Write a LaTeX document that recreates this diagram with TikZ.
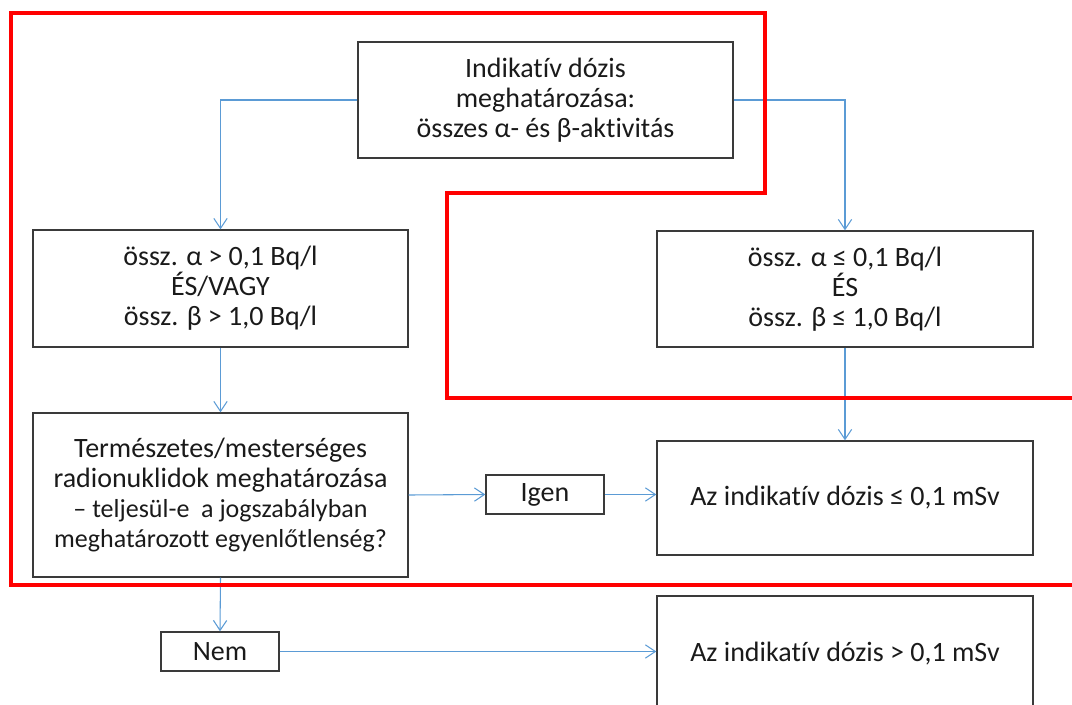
\documentclass[tikz,border=0pt]{standalone}
\usepackage{fontspec}
\setmainfont{Carlito}[Ligatures=NoCommon]
\usetikzlibrary{arrows.meta}
\definecolor{flowblue}{HTML}{5B9BD5}
\definecolor{boxline}{HTML}{3A3A3A}
\definecolor{ink}{HTML}{1A1A1A}
\definecolor{zone}{HTML}{FF0000}
\tikzset{
  stepbox/.style={draw=boxline, line width=1pt, align=center, inner sep=0pt,
    text=ink, font=\fontsize{21}{22.5}\selectfont},
  flow/.style={draw=flowblue, line width=0.8pt,
    -{Straight Barb[length=7.5pt,width=10pt,line width=0.8pt]}},
  zoneline/.style={draw=zone, line width=3pt, line join=miter}
}
\begin{document}
\begin{tikzpicture}[x=0.75pt,y=-0.75pt]
\useasboundingbox (0,0) rectangle (1072,704);
\clip (0,0) rectangle (1072,704);

% boxes
\node[stepbox, minimum width=281.25pt, minimum height=87pt] (top) at (545.5,100)
  {Indikatív dózis\\ meghatározása:\\ összes α- és β-aktivitás};
\node[stepbox, minimum width=281.25pt, minimum height=87.75pt] (hi) at (220.5,288.5)
  {össz. α > 0,1 Bq/l\\ ÉS/VAGY\\ össz. β > 1,0 Bq/l};
\node[stepbox, minimum width=282pt, minimum height=87pt] (lo) at (845,289)
  {össz. α ≤ 0,1 Bq/l\\ ÉS\\ össz. β ≤ 1,0 Bq/l};
\node[stepbox, minimum width=281.25pt, minimum height=123pt] (nuc) at (220.5,495)
  {Természetes/mesterséges\\ radionuklidok meghatározása\\
   {\fontsize{19.5}{21}\selectfont – teljesül-e\ \ a jogszabályban}\\
   {\fontsize{19.5}{21}\selectfont meghatározott egyenlőtlenség?}};
\node[stepbox, minimum width=282pt, minimum height=85.5pt] (ok) at (845,498)
  {Az indikatív dózis ≤ 0,1 mSv};
\node[stepbox, minimum width=88.5pt, minimum height=29.25pt] (yes) at (545,494.5) {Igen};
\node[stepbox, minimum width=88.5pt, minimum height=29.25pt] (no) at (220,651.5) {Nem};
\node[stepbox, minimum width=282pt, minimum height=87pt] (over) at (845,654)
  {Az indikatív dózis > 0,1 mSv};

% connectors
\draw[flow] (top.west) -| (hi.north);
\draw[flow] (top.east) -| (lo.north);
\draw[flow] (hi.south) -- (nuc.north);
\draw[flow] (lo.south) -- (ok.north);
\draw[flow] (nuc.east) -- (yes.west);
\draw[flow] (yes.east) -- (yes.east -| ok.west);
\draw[flow] (nuc.south) -- (no.north);
\draw[flow] (no.east) -- (no.east -| over.west);

% red outline
\draw[zoneline] (1085,398) -- (447,398) -- (447,193) -- (765,193) -- (765,13)
  -- (11,13) -- (11,585) -- (1085,585);
\end{tikzpicture}
\end{document}
